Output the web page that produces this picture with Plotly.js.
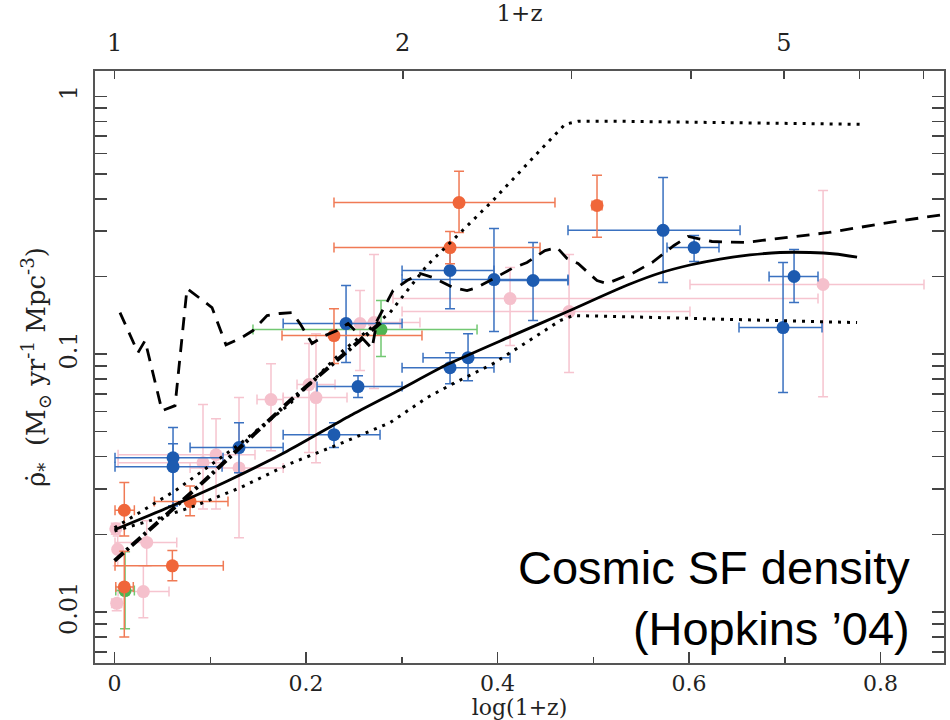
<!DOCTYPE html>
<html>
<head>
<meta charset="utf-8">
<script src="https://cdn.plot.ly/plotly-3.0.1.min.js"></script>
<style>html,body{margin:0;padding:0;background:#fff;}#chart{width:950px;height:720px;}</style>
</head>
<body>
<div id="chart"></div>
<script>
// ---------- data points (x = log(1+z), y = SFR density) ----------
const pinkX   = [0.0013, 0.0033, 0.0336, 0.0301, 0.0023, 0.0924, 0.1060, 0.1300, 0.1634, 0.2104, 0.2031, 0.2564, 0.2710, 0.4131, 0.4747, 0.7400];
const pinkXlo = [-0.002, 0.0005, 0.0005, 0.0037, -0.003, 0.0037, 0.0037, 0.0789, 0.1488, 0.1761, 0.1906, 0.2376, 0.2407, 0.2908, 0.3003, 0.6010];
const pinkXhi = [0.0050, 0.0060, 0.0650, 0.0569, 0.0075, 0.1133, 0.1467, 0.1761, 0.1761, 0.2428, 0.2303, 0.2982, 0.3190, 0.7347, 0.6010, 0.8454];
const pinkY   = [0.0210, 0.0175, 0.0186, 0.0120, 0.0108, 0.0379, 0.0407, 0.0362, 0.0666, 0.0678, 0.0762, 0.1313, 0.1325, 0.1642, 0.1462, 0.1862];
const pinkYlo = [0.0200, 0.0151, 0.0151, 0.0095, 0.0101, 0.0251, 0.0251, 0.0194, 0.0422, 0.0379, 0.0415, 0.0863, 0.0735, 0.1079, 0.0848, 0.0684];
const pinkYhi = [0.0221, 0.0197, 0.0226, 0.0151, 0.0112, 0.0637, 0.0562, 0.0678, 0.0918, 0.1200, 0.1099, 0.1764, 0.2434, 0.2168, 0.2434, 0.4315];

const greenX   = [0.2783, 0.0110];
const greenXlo = [0.1446, 0.0013];
const greenXhi = [0.3786, 0.0207];
const greenY   = [0.1245, 0.0121];
const greenYlo = [0.0978, 0.0086];
const greenYhi = [0.1613, 0.0171];

const blueX   = [0.0611, 0.0611, 0.1300, 0.2292, 0.2543, 0.2418, 0.3504, 0.3963, 0.4371, 0.3504, 0.3692, 0.5729, 0.6053, 0.7097, 0.6982];
const blueXlo = [0.0005, 0.0005, 0.0789, 0.1761, 0.2115, 0.1761, 0.3003, 0.3003, 0.3963, 0.3003, 0.3222, 0.4736, 0.5770, 0.6836, 0.6522];
const blueXhi = [0.1133, 0.1123, 0.1761, 0.2773, 0.3003, 0.3003, 0.3963, 0.4736, 0.4736, 0.3963, 0.4131, 0.6533, 0.6313, 0.7347, 0.7389];
const blueY   = [0.0396, 0.0366, 0.0434, 0.0487, 0.0748, 0.1313, 0.2110, 0.1945, 0.1930, 0.0886, 0.0969, 0.3020, 0.2590, 0.2000, 0.1267];
const blueYlo = [0.0258, 0.0258, 0.0347, 0.0434, 0.0678, 0.0927, 0.1500, 0.1223, 0.1350, 0.0768, 0.0789, 0.1895, 0.2286, 0.1585, 0.0709];
const blueYhi = [0.0519, 0.0449, 0.0542, 0.0542, 0.0825, 0.1845, 0.2570, 0.3070, 0.2710, 0.1013, 0.1200, 0.4845, 0.2885, 0.2547, 0.2266];

const orangeX   = [0.0102, 0.0102, 0.0604, 0.0789, 0.2292, 0.3598, 0.3504, 0.5039];
const orangeXlo = [0.0005, 0.0013, 0.0005, 0.0416, 0.1749, 0.2292, 0.2292, 0.4987];
const orangeXhi = [0.0207, 0.0196, 0.1136, 0.1185, 0.3211, 0.4600, 0.4444, 0.5091];
const orangeY   = [0.0248, 0.0125, 0.0151, 0.0268, 0.1180, 0.3870, 0.2590, 0.3770];
const orangeYlo = [0.0197, 0.0080, 0.0132, 0.0236, 0.0919, 0.2960, 0.2240, 0.2840];
const orangeYhi = [0.0318, 0.0172, 0.0173, 0.0308, 0.1500, 0.5120, 0.2990, 0.4940];

// ---------- model curves ----------
const solidX = [0, 0.0590, 0.1185, 0.1802, 0.2460, 0.2982, 0.3473, 0.4131, 0.4757, 0.5070, 0.5384, 0.5697, 0.6010, 0.6324, 0.6637, 0.6950, 0.7264, 0.7526, 0.7755];
const solidY = [0.02082, 0.02569, 0.03226, 0.04201, 0.05770, 0.07280, 0.09105, 0.1169, 0.1475, 0.1665, 0.1870, 0.2063, 0.2216, 0.2338, 0.2424, 0.2478, 0.2478, 0.2445, 0.2379];

const dashX = [0.0057, 0.0245, 0.0319, 0.0496, 0.0632, 0.0757, 0.1018, 0.1164, 0.1311, 0.1446, 0.1593, 0.1728, 0.1854, 0.1937, 0.2063, 0.2198, 0.2324, 0.2439, 0.2533, 0.2689, 0.2742, 0.2909, 0.3055, 0.3191, 0.3326, 0.3535, 0.3682, 0.3786, 0.3922, 0.4151, 0.4308, 0.4496, 0.4621, 0.4726, 0.4841, 0.5039, 0.5144, 0.5405, 0.5614, 0.5843, 0.5990, 0.6240, 0.6585, 0.6940, 0.7462, 0.8026, 0.8663, 0.8750];
const dashY = [0.1449, 0.1013, 0.1128, 0.0603, 0.0631, 0.1796, 0.1516, 0.1086, 0.1149, 0.1234, 0.1411, 0.1437, 0.1449, 0.1313, 0.1099, 0.1180, 0.1234, 0.1313, 0.1212, 0.1050, 0.1349, 0.1764, 0.1929, 0.2054, 0.1982, 0.1813, 0.1764, 0.1813, 0.1929, 0.2148, 0.2266, 0.2522, 0.2591, 0.2349, 0.2246, 0.1929, 0.1879, 0.2054, 0.2266, 0.2638, 0.2859, 0.2734, 0.2710, 0.2809, 0.2963, 0.3211, 0.3480, 0.3520];

const dotUpX = [0, 0.0632, 0.1311, 0.1833, 0.2386, 0.2877, 0.3264, 0.3608, 0.3953, 0.4444, 0.4705, 0.4841, 0.5279, 0.7786];
const dotUpY = [0.0212, 0.0295, 0.0449, 0.0642, 0.1032, 0.1449, 0.2207, 0.2938, 0.3946, 0.6170, 0.7786, 0.7997, 0.7997, 0.7786];

const dotLoX = [0, 0.0475, 0.0841, 0.1311, 0.1833, 0.2355, 0.2877, 0.3264, 0.3535, 0.3953, 0.4444, 0.4653, 0.4789, 0.5279, 0.7755];
const dotLoY = [0.0206, 0.0232, 0.0258, 0.0303, 0.0376, 0.0449, 0.0542, 0.0678, 0.0768, 0.0918, 0.1201, 0.1349, 0.1411, 0.1398, 0.1325];

const dashDotX = [0, 0.0893, 0.1833, 0.2804];
const dashDotY = [0.0158, 0.0311, 0.0660, 0.1349];

// ---------- axis labels ----------
const xTickVals = [0, 0.2, 0.4, 0.6, 0.8];
const xTickText = ['0', '0.2', '0.4', '0.6', '0.8'];
const xMinorVals = [0.1, 0.3, 0.5, 0.7];
const topLabelled = [1, 2, 5];
const topLabelText = ['1', '2', '5'];
const topUnlabelled = [3, 4, 6, 7];
const yTickVals = [0.01, 0.1, 1];
const yTickText = ['0.01', '0.1', '1'];
const yMinorMult = [2, 3, 4, 5, 6, 7, 8, 9];
const yDecades = [0.001, 0.01, 0.1];

// ---------- build ----------
function errX(x, lo, hi, color) {
  return {type: 'data', symmetric: false,
    array: x.map((v, i) => hi[i] - v), arrayminus: x.map((v, i) => v - lo[i]),
    color: color, thickness: 1.5, width: 5};
}
function errY(y, lo, hi, color) {
  return {type: 'data', symmetric: false,
    array: y.map((v, i) => hi[i] - v), arrayminus: y.map((v, i) => v - lo[i]),
    color: color, thickness: 1.5, width: 5};
}
function pts(name, x, xlo, xhi, y, ylo, yhi, mcol, ecol) {
  return {type: 'scatter', mode: 'markers', name: name, x: x, y: y,
    marker: {color: mcol, size: 13, line: {width: 0}},
    error_x: errX(x, xlo, xhi, ecol), error_y: errY(y, ylo, yhi, ecol),
    hoverinfo: 'x+y'};
}
function curve(name, x, y, dash, width, shape) {
  return {type: 'scatter', mode: 'lines', name: name, x: x, y: y, xaxis: 'x2', yaxis: 'y',
    line: {color: '#000', width: width, dash: dash, shape: shape || 'linear', smoothing: 0.6}};
}

const traces = [
  pts('pink', pinkX, pinkXlo, pinkXhi, pinkY, pinkYlo, pinkYhi, '#F5C0CC', '#F6C4CF'),
  pts('green', greenX, greenXlo, greenXhi, greenY, greenYlo, greenYhi, '#4FB552', '#72C872'),
  pts('blue', blueX, blueXlo, blueXhi, blueY, blueYlo, blueYhi, '#1D5BB0', '#3A71C0'),
  pts('orange', orangeX, orangeXlo, orangeXhi, orangeY, orangeYlo, orangeYhi, '#F0663A', '#F07A55'),
  curve('upper dotted', dotUpX, dotUpY, '3px,6px', 3),
  curve('lower dotted', dotLoX, dotLoY, '3px,6px', 3),
  curve('dashed', dashX, dashY, '13px,9px', 2.8),
  curve('dash-dot', dashDotX, dashDotY, '12px,4px,3px,4px', 4),
  curve('solid', solidX, solidY, 'solid', 2.8, 'spline')
];

const xr = [-0.0204, 0.8663];
const yMinor = [];
yDecades.forEach(d => yMinorMult.forEach(m => yMinor.push(d * m)));

const serif = 'DejaVu Serif, Liberation Serif, serif';
const tf = {family: serif, size: 24, color: '#222'};
const layout = {
  width: 950, height: 720,
  margin: {l: 95, r: 6, t: 71, b: 57},
  paper_bgcolor: '#fff', plot_bgcolor: '#fff',
  showlegend: false,
  font: {family: serif, size: 22, color: '#222'},
  xaxis: {
    range: xr, tickmode: 'array', tickvals: xTickVals, ticktext: xTickText,
    ticks: 'inside', ticklen: 11, tickwidth: 1.5, tickcolor: '#444',
    showline: true, linecolor: '#555', linewidth: 2, mirror: false,
    zeroline: false, showgrid: false, automargin: false,
    ticklabelstandoff: 0, tickfont: {family: serif, size: 22, color: '#222'},
    minor: {tickmode: 'array', tickvals: xMinorVals, ticks: 'inside', ticklen: 6, tickwidth: 1.5, tickcolor: '#444', showgrid: false},
    title: {text: 'log(1+z)', standoff: 4, font: {family: serif, size: 22, color: '#222'}}
  },
  xaxis2: {
    overlaying: 'x', side: 'top', anchor: 'y',
    range: xr, tickmode: 'array', tickvals: topLabelled.map(v => Math.log10(v)), ticktext: topLabelText,
    ticks: 'inside', ticklen: 8, tickwidth: 1.5, tickcolor: '#444',
    showline: true, linecolor: '#555', linewidth: 2,
    zeroline: false, showgrid: false, automargin: false,
    ticklabelstandoff: 8, tickfont: tf,
    minor: {tickmode: 'array', tickvals: topUnlabelled.map(v => Math.log10(v)), ticks: 'inside', ticklen: 8, tickwidth: 1.5, tickcolor: '#444', showgrid: false},
    title: {text: '1+z', standoff: 4, font: {family: serif, size: 23, color: '#222'}}
  },
  yaxis: {
    type: 'log', range: [-2.198, 0.098],
    tickmode: 'array', tickvals: yTickVals, ticktext: yTickText, tickangle: -90,
    ticks: 'inside', ticklen: 12, tickwidth: 1.5, tickcolor: '#444',
    showline: true, linecolor: '#555', linewidth: 2, mirror: 'allticks',
    zeroline: false, showgrid: false, automargin: false,
    ticklabelstandoff: 6, tickfont: tf,
    minor: {tickmode: 'array', tickvals: yMinor, ticks: 'inside', ticklen: 7, tickwidth: 1.5, tickcolor: '#444', showgrid: false},
    title: {text: '\u00A0\u00A0\u00A0\u00A0\u00A0\u00A0\u00A0\u00A0ρ̇<sub>*</sub>  (M<sub>⊙</sub> yr<sup>-1</sup> Mpc<sup>-3</sup>)', standoff: 2, font: {family: serif, size: 26, color: '#222'}}
  },
  annotations: [{
    xref: 'paper', yref: 'paper', x: 0.962, y: 0.11, xanchor: 'right', yanchor: 'middle', align: 'right',
    showarrow: false, text: 'Cosmic SF density<br>(Hopkins ’04)',
    font: {family: 'Liberation Sans, Arial, sans-serif', size: 47, color: '#000'}
  }]
};

Plotly.newPlot('chart', traces, layout, {displayModeBar: false, staticPlot: true});
</script>
</body>
</html>
